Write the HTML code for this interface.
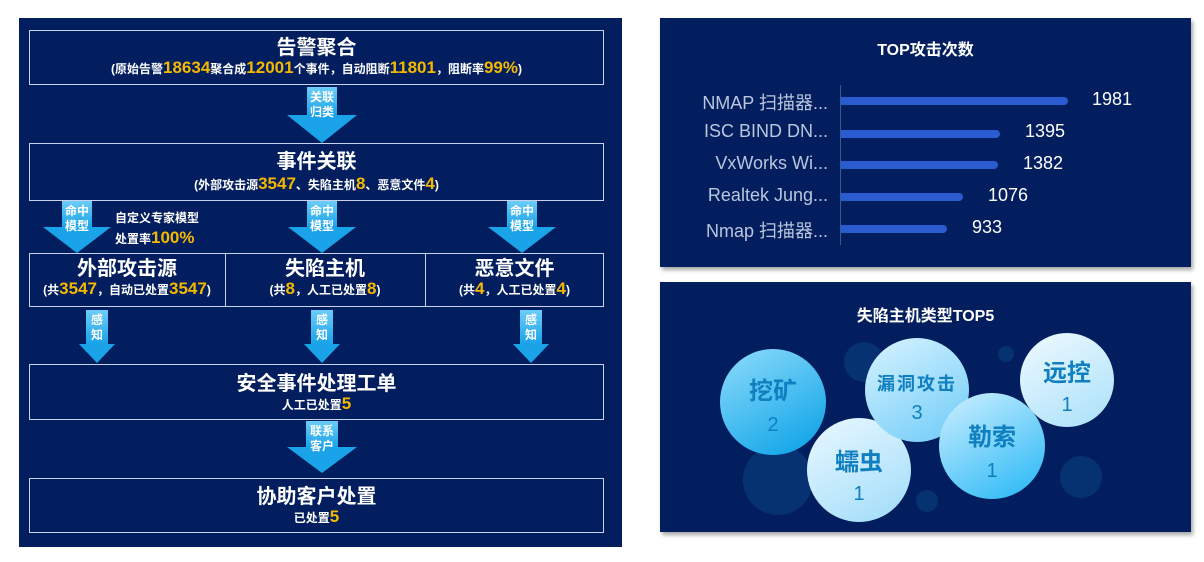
<!DOCTYPE html><html><head><meta charset="utf-8"><style>
body{margin:0;width:1204px;height:562px;background:#fff;position:relative;overflow:hidden;font-family:"Liberation Sans","Noto Sans CJK SC",sans-serif}
.a{position:absolute}
.bx{position:absolute;border:1px solid #c8d2ea;box-sizing:border-box;color:#fff;text-align:center}
.t{font-weight:bold;font-size:20px;line-height:24px}
.s{font-size:12px;font-weight:bold;line-height:16px}
.y{color:#f5b800;font-size:17px}
.ar{position:absolute}
.ar .r{position:absolute;left:50%;transform:translateX(-50%);top:0;background:linear-gradient(#6ccdf8,#1aa3e8)}
.ar .tr{position:absolute;left:50%;transform:translateX(-50%);width:0;height:0;border-left-style:solid;border-right-style:solid;border-top-style:solid;border-left-color:transparent;border-right-color:transparent;border-top-color:#1aa3e8}
.ar .l{position:absolute;left:0;right:0;top:3px;color:#fff;font-size:12px;font-weight:bold;text-align:center;line-height:15px}
.panel{position:absolute;background:#021e5e;box-shadow:2px 3px 4px rgba(0,0,0,.35)}
.lb{position:absolute;right:376px;color:#b9c6dc;font-size:18px;white-space:nowrap}
.bar{position:absolute;left:841px;height:8px;background:#2a5bd0;border-radius:0 4px 4px 0}
.v{position:absolute;color:#fff;font-size:18px}
.bub{position:absolute;border-radius:50%;text-align:center;color:#0f7fc0;font-weight:bold}
.dk{position:absolute;border-radius:50%;background:#0a3a7a;opacity:.7}
</style></head><body>
<div class="a" style="left:19px;top:18px;width:603px;height:529px;background:#021e5e"></div>

<div class="bx" style="left:29px;top:30px;width:575px;height:55px;padding-top:5px"><div class="t">告警聚合</div><div class="s">(原始告警<span class="y">18634</span>聚合成<span class="y">12001</span>个事件，自动阻断<span class="y">11801</span>，阻断率<span class="y">99%</span>)</div></div>

<div class="ar" style="left:287px;top:87px;width:70px;height:56px"><div class="r" style="width:30px;height:28px"></div><div class="tr" style="top:28px;border-width:28px 35px 0 35px"></div><div class="l">关联<br>归类</div></div>

<div class="bx" style="left:29px;top:143px;width:575px;height:58px;padding-top:6px"><div class="t">事件关联</div><div class="s" style="margin-top:2px">(外部攻击源<span class="y">3547</span>、失陷主机<span class="y">8</span>、恶意文件<span class="y">4</span>)</div></div>

<div class="ar" style="left:43px;top:201px;width:68px;height:52px"><div class="r" style="width:30px;height:26px"></div><div class="tr" style="top:26px;border-width:26px 34px 0 34px"></div><div class="l">命中<br>模型</div></div>
<div class="ar" style="left:288px;top:201px;width:68px;height:52px"><div class="r" style="width:30px;height:26px"></div><div class="tr" style="top:26px;border-width:26px 34px 0 34px"></div><div class="l">命中<br>模型</div></div>
<div class="ar" style="left:488px;top:201px;width:68px;height:52px"><div class="r" style="width:30px;height:26px"></div><div class="tr" style="top:26px;border-width:26px 34px 0 34px"></div><div class="l">命中<br>模型</div></div>
<div class="a" style="left:115px;top:208px;color:#fff;font-size:12px;font-weight:bold;line-height:20px">自定义专家模型<br>处置率<span style="color:#f5b800;font-size:17px">100%</span></div>

<div class="bx" style="left:29px;top:253px;width:575px;height:54px"></div>
<div class="a" style="left:225px;top:253px;width:1px;height:54px;background:#c8d2ea"></div>
<div class="a" style="left:425px;top:253px;width:1px;height:54px;background:#c8d2ea"></div>
<div class="bx" style="border:0;left:29px;top:257px;width:196px"><div class="t">外部攻击源</div><div class="s">(共<span class="y">3547</span>，自动已处置<span class="y">3547</span>)</div></div>
<div class="bx" style="border:0;left:225px;top:257px;width:200px"><div class="t">失陷主机</div><div class="s">(共<span class="y">8</span>，人工已处置<span class="y">8</span>)</div></div>
<div class="bx" style="border:0;left:425px;top:257px;width:179px"><div class="t">恶意文件</div><div class="s">(共<span class="y">4</span>，人工已处置<span class="y">4</span>)</div></div>

<div class="ar" style="left:79px;top:310px;width:36px;height:53px"><div class="r" style="width:22px;height:34px"></div><div class="tr" style="top:34px;border-width:19px 18px 0 18px"></div><div class="l">感<br>知</div></div>
<div class="ar" style="left:304px;top:310px;width:36px;height:53px"><div class="r" style="width:22px;height:34px"></div><div class="tr" style="top:34px;border-width:19px 18px 0 18px"></div><div class="l">感<br>知</div></div>
<div class="ar" style="left:513px;top:310px;width:36px;height:53px"><div class="r" style="width:22px;height:34px"></div><div class="tr" style="top:34px;border-width:19px 18px 0 18px"></div><div class="l">感<br>知</div></div>

<div class="bx" style="left:29px;top:364px;width:575px;height:56px;padding-top:7px"><div class="t">安全事件处理工单</div><div class="s">人工已处置<span class="y">5</span></div></div>

<div class="ar" style="left:287px;top:421px;width:70px;height:52px"><div class="r" style="width:32px;height:26px"></div><div class="tr" style="top:26px;border-width:26px 35px 0 35px"></div><div class="l">联系<br>客户</div></div>

<div class="bx" style="left:29px;top:478px;width:575px;height:55px;padding-top:6px"><div class="t">协助客户处置</div><div class="s">已处置<span class="y">5</span></div></div>

<div class="panel" style="left:660px;top:18px;width:531px;height:249px"></div>
<div class="a" style="left:660px;top:36px;width:531px;text-align:center;color:#fff;font-weight:bold;font-size:16px">TOP攻击次数</div>
<div class="a" style="left:840px;top:85px;width:1px;height:160px;background:#3a5a90"></div>
<div class="lb" style="top:89px">NMAP 扫描器...</div><div class="bar" style="top:97px;width:227px"></div><div class="v" style="left:1092px;top:89px">1981</div>
<div class="lb" style="top:121px">ISC BIND DN...</div><div class="bar" style="top:130px;width:159px"></div><div class="v" style="left:1025px;top:121px">1395</div>
<div class="lb" style="top:153px">VxWorks Wi...</div><div class="bar" style="top:161px;width:157px"></div><div class="v" style="left:1023px;top:153px">1382</div>
<div class="lb" style="top:185px">Realtek Jung...</div><div class="bar" style="top:193px;width:122px"></div><div class="v" style="left:988px;top:185px">1076</div>
<div class="lb" style="top:217px">Nmap 扫描器...</div><div class="bar" style="top:225px;width:106px"></div><div class="v" style="left:972px;top:217px">933</div>

<div class="panel" style="left:660px;top:282px;width:531px;height:250px;overflow:hidden">
<div class="dk" style="left:83px;top:163px;width:70px;height:70px"></div>
<div class="dk" style="left:184px;top:60px;width:40px;height:40px"></div>
<div class="dk" style="left:400px;top:174px;width:42px;height:42px"></div>
<div class="dk" style="left:256px;top:208px;width:22px;height:22px"></div>
<div class="dk" style="left:338px;top:64px;width:16px;height:16px"></div>
</div>
<div class="a" style="left:660px;top:302px;width:531px;text-align:center;color:#fff;font-weight:bold;font-size:16px">失陷主机类型TOP5</div>

<div class="bub" style="left:720px;top:349px;width:106px;height:106px;background:linear-gradient(150deg,#8fdcfb,#05a0e6)"><div style="font-size:24px;margin-top:22px">挖矿</div><div style="font-size:20px;font-weight:normal;margin-top:8px">2</div></div>
<div class="bub" style="left:807px;top:418px;width:104px;height:104px;background:linear-gradient(150deg,#eaf8ff,#9fdcfa)"><div style="font-size:24px;margin-top:24px">蠕虫</div><div style="font-size:20px;font-weight:normal;margin-top:6px">1</div></div>
<div class="bub" style="left:865px;top:338px;width:104px;height:104px;background:linear-gradient(150deg,#d8f3ff,#6dcbf8)"><div style="font-size:18px;margin-top:32px;letter-spacing:2px">漏洞攻击</div><div style="font-size:20px;font-weight:normal;margin-top:6px">3</div></div>
<div class="bub" style="left:939px;top:393px;width:106px;height:106px;background:linear-gradient(150deg,#d0f0ff,#22b6f5)"><div style="font-size:24px;margin-top:24px">勒索</div><div style="font-size:20px;font-weight:normal;margin-top:8px">1</div></div>
<div class="bub" style="left:1020px;top:333px;width:94px;height:94px;background:linear-gradient(150deg,#f0faff,#a8e0fa)"><div style="font-size:24px;margin-top:20px">远控</div><div style="font-size:20px;font-weight:normal;margin-top:6px">1</div></div>
</body></html>
